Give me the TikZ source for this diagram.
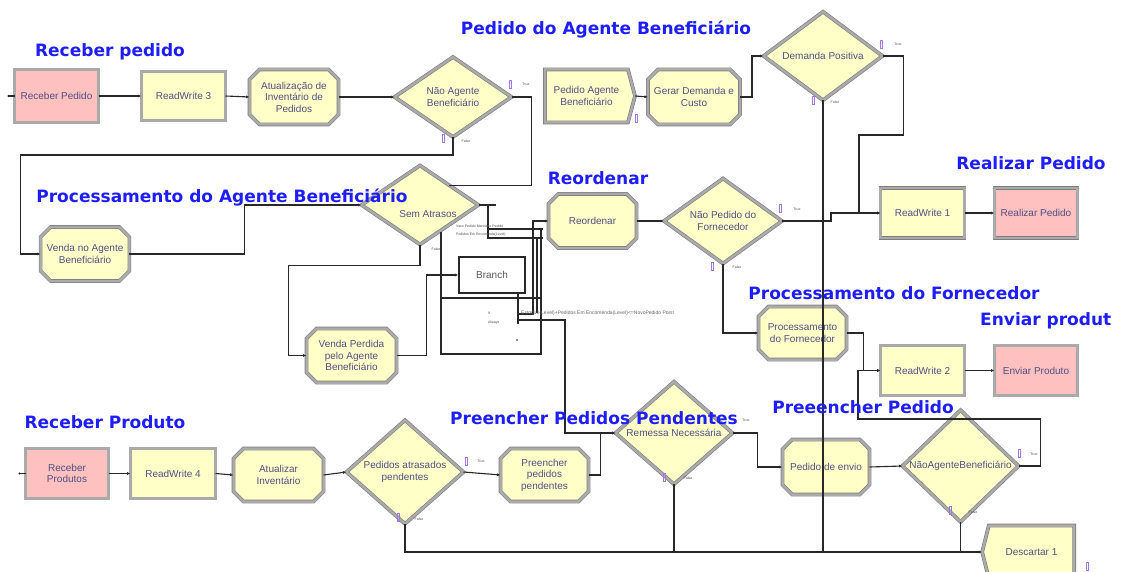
\documentclass[tikz,border=0pt]{standalone}
\usepackage{fontspec}
\newfontfamily\modfont{Liberation Sans}
\newfontfamily\ttlfont{DejaVu Sans}
\usetikzlibrary{shapes.geometric,shapes.misc,shapes.symbols,arrows.meta,calc}
\definecolor{yel}{RGB}{255,255,200}
\definecolor{pinkf}{RGB}{255,192,192}
\definecolor{modline}{RGB}{170,170,170}
\definecolor{modedge}{RGB}{125,125,125}
\definecolor{modtext}{RGB}{80,80,130}
\definecolor{ttlblue}{RGB}{30,30,250}
\definecolor{lnc}{RGB}{40,40,40}
\definecolor{pmark}{RGB}{160,120,230}
\tikzset{
 mod/.style={draw=modedge, line width=0.6pt, double=modline, double distance=2.5pt, font=\modfont\fontsize{10}{11.5}\selectfont, text=modtext, align=center, inner sep=1pt, outer sep=0pt},
 rwbox/.style={mod, rectangle, fill=yel},
 crbox/.style={mod, rectangle, fill=pinkf},
 procbox/.style={mod, chamfered rectangle, chamfered rectangle xsep=5pt, chamfered rectangle ysep=5pt, fill=yel},
 decbox/.style={mod, diamond, fill=yel, inner sep=0pt},
 sepbox/.style={mod, signal, signal to=east, signal pointer angle=150, fill=yel},
 dispbox/.style={mod, signal, signal to=west, signal pointer angle=152, fill=yel},
 brbox/.style={draw=lnc, line width=1.1pt, fill=white, font=\modfont\fontsize{10}{11.5}\selectfont, text=black!65, inner sep=1pt},
 modtxt/.style={font=\modfont\fontsize{10}{11.5}\selectfont, text=modtext, inner sep=0pt},
 ttl/.style={font=\ttlfont\bfseries\fontsize{17}{19}\selectfont, text=ttlblue, inner sep=0pt},
 wire/.style={draw=lnc, line width=1.1pt},
 conn/.style={wire, -{Latex[length=3.5pt,width=3pt]}},
 tiny/.style={font=\modfont\fontsize{3.5}{4}\selectfont, text=black!70, inner sep=0pt},
 smalltxt/.style={font=\modfont\fontsize{5}{5.5}\selectfont, text=black!60, inner sep=0pt},
 pm/.style={draw=pmark, line width=0.6pt},
}
\begin{document}
\begin{tikzpicture}[x=1pt,y=-1pt]
\clip (0,0) rectangle (1121,572);
\fill[white] (0,0) rectangle (1121,572);

% ---------- modules ----------
\node[crbox, minimum width=84pt, minimum height=53pt] (rp) at (56.5,96) {Receber Pedido};
\node[rwbox, minimum width=84pt, minimum height=49pt] (rw3) at (183.5,96) {ReadWrite 3};
\node[procbox, minimum width=89pt, minimum height=55pt] (atp) at (294,97) {Atualização de\\Inventário de\\Pedidos};
\node[decbox, minimum width=117pt, minimum height=80pt] (nab) at (453,97) {Não Agente\\Beneficiário};
\node[sepbox, minimum width=90pt, minimum height=53pt] (pab) at (586.5,96) {Pedido Agente\\Beneficiário};
\node[procbox, minimum width=85pt, minimum height=55pt] (gdc) at (694,97) {Gerar Demanda e\\Custo};
\node[decbox, minimum width=119pt, minimum height=80pt] (dp) at (823,56) {Demanda Positiva};

\node[decbox, minimum width=117pt, minimum height=79pt] (sa) at (420,205) {};
\node[modtxt] (sat) at (428,214) {Sem Atrasos};
\node[procbox, minimum width=87pt, minimum height=54pt] (vab) at (85,254) {Venda no Agente\\Beneficiário};
\node[procbox, minimum width=88pt, minimum height=54pt] (reo) at (592.5,221) {Reordenar};
\node[decbox, minimum width=118pt, minimum height=79pt] (npf) at (723,221) {Não Pedido do\\Fornecedor};
\node[rwbox, minimum width=84pt, minimum height=50pt] (rw1) at (922.5,213) {ReadWrite 1};
\node[crbox, minimum width=83pt, minimum height=50pt] (rlp) at (1036,213) {Realizar Pedido};
\node[brbox, minimum width=66pt, minimum height=36pt] (br) at (492,275) {Branch};
\node[procbox, minimum width=90pt, minimum height=54pt] (vpab) at (351.5,355.5) {Venda Perdida\\pelo Agente\\Beneficiário};
\node[procbox, minimum width=88pt, minimum height=53pt] (pf) at (802.5,333) {Processamento\\do Fornecedor};
\node[rwbox, minimum width=84pt, minimum height=50pt] (rw2) at (922.5,370.5) {ReadWrite 2};
\node[crbox, minimum width=83pt, minimum height=50pt] (ep) at (1036,370.5) {Enviar Produto};

\node[crbox, minimum width=83pt, minimum height=50pt] (rpr) at (67,473.5) {Receber\\Produtos};
\node[rwbox, minimum width=85pt, minimum height=50pt] (rw4) at (173,473.5) {ReadWrite 4};
\node[procbox, minimum width=90pt, minimum height=53pt] (ai) at (278.5,475) {Atualizar\\Inventário};
\node[decbox, minimum width=117pt, minimum height=78pt] (pap) at (405,472) {Pedidos atrasados\\pendentes};
\node[procbox, minimum width=88pt, minimum height=53pt] (ppp) at (544.5,475) {Preencher\\pedidos\\pendentes};
\node[decbox, minimum width=117pt, minimum height=77pt] (rn) at (674,433) {Remessa Necessária};
\node[procbox, minimum width=87pt, minimum height=55pt] (pe) at (826,467) {Pedido de envio};
\node[decbox, minimum width=116pt, minimum height=79pt] (nab2) at (960.5,466) {NãoAgenteBeneficiário};
\node[dispbox, minimum width=92pt, minimum height=53pt] (d1) at (1031.5,552) {Descartar 1};

% ---------- connectors ----------
\coordinate (e1) at ($(rp.west)+(-6,0)$);
\draw[wire] (e1) -- (rp.west);
\fill[lnc] (e1) circle (1.2pt);
\coordinate (e2) at ($(rpr.west)+(-6,0)$);
\draw[wire] (e2) -- (rpr.west);
\fill[lnc] (e2) circle (1.2pt);

\draw[conn] (rp.east) -- (rw3.west);
\draw[conn] (rw3.east) -- (atp.west);
\draw[conn] (atp.east) -- (nab.west);
\draw[wire] (nab.east) -- ++(20,0) |- (sa.north east);
\draw[conn] (nab.south) -- ++(0,18) -| ($(vab.west)+(-20,0)$) -- (vab.west);
\draw[conn] (pab.east) -- (gdc.west);
\draw[conn] (gdc.east) -- ++(12,0) |- (dp.west);
\coordinate (j1) at (859,135);
\draw[conn] (dp.east) -- ++(21,0) |- (j1) |- (rw1.west);

\draw[conn] (vab.east) -- ++(115,0) |- (sa.west);
\draw[conn] (sa.south) -- ++(0,21) -| ($(vpab.west)+(-18,0)$) -- (vpab.west);
\draw[conn] (vpab.east) -- ++(30,0) |- (br.west);

% branch block lines
\coordinate (s1) at (488,205);
\draw[wire] (sa.east) -- ++(17,0);
\draw[wire] (s1) -- (488,239);
\draw[wire] (488,229) -- (543,229);
\draw[wire] (488,238) -- (543,238);
\draw[wire] (441,232) -- (441,354) -- (541,354) -- (541,229);
\draw[wire] (441,298) -- (541,298);
\draw[wire] (537,238) -- (537,313);
\coordinate (b0) at (518,293);
\coordinate (b1) at (518,314);
\coordinate (b2) at (518,320);
\draw[wire] (b0) -- (518,324);
\draw[conn] (b1) -- ++(15,0) |- (reo.west);
\draw[conn] (b2) -- ++(47,0) |- (rn.west);
\fill[lnc] (517,340) circle (0.8pt);

\draw[conn] (reo.east) -- (npf.west);
\draw[conn] (npf.east) -- ++(49,0) |- (rw1.west);
\draw[conn] (npf.south) |- (pf.west);
\draw[conn] (rw1.east) -- (rlp.west);
\draw[conn] (pf.east) -- ++(17,0) |- (rw2.west);
\draw[conn] (rw2.east) -- (ep.west);

\draw[conn] (rpr.east) -- (rw4.west);
\draw[conn] (rw4.east) -- (ai.west);
\draw[conn] (ai.east) -- (pap.west);
\draw[conn] (pap.east) -- (ppp.west);
\draw[conn] (ppp.east) -- ++(12,0) |- (rn.west);
\draw[conn] (rn.east) -- ++(25,0) |- (pe.west);
\draw[conn] (pe.east) -- (nab2.west);
\coordinate (j2) at (858,419);
\draw[conn] (nab2.east) -- ++(22,0) |- (j2) |- (rw2.west);
\draw[conn] (pap.south) |- (d1.west);
\draw[wire] (rn.south) -- (rn.south |- d1.west);
\draw[wire] (nab2.south) -- (nab2.south |- d1.west);
\draw[wire] (dp.south) -- (dp.south |- d1.west);

% ---------- small labels ----------
\node[tiny] (l1) at (526,84) {True};
\node[tiny] (l2) at (466,141) {False};
\node[tiny] (l3) at (898,44) {True};
\node[tiny] (l4) at (835,102) {False};
\node[tiny] (l5) at (797,209) {True};
\node[tiny] (l6) at (737,267) {False};
\node[tiny] (l7) at (481,461) {True};
\node[tiny] (l8) at (419,519) {False};
\node[tiny] (l9) at (746,420) {True};
\node[tiny] (l10) at (688,478) {False};
\node[tiny] (l11) at (1034,454) {True};
\node[tiny] (l12) at (973,512) {False};
\node[tiny] (l13) at (436,249) {False};
\foreach \px/\py in {510/84,443/138,881/44,813/100,780/208,712/266,466/461,398/517,664/477,1019/453,950/510,636/118,1087/566}
  \draw[pm] (\px-0.8,\py-4) rectangle (\px+0.8,\py+4);
\node[tiny, anchor=west] (bl1) at (456,226) {Vaso Pedido Mandado Pedido};
\node[tiny, anchor=west] (bl2) at (456,235) {Pedidos Em Encomenda(Level)};
\node[tiny, anchor=west] (bl3) at (488,313) {If};
\node[tiny, anchor=west] (bl4) at (488,323) {Always};
\node[smalltxt, anchor=west] (bl5) at (521,313) {Estoque(Level)+Pedidos Em Encomenda(Level)<=NovoPedido Point};

% ---------- titles ----------
\node[ttl] (t1) at (110,52) {Receber pedido};
\node[ttl] (t2) at (606,30) {Pedido do Agente Beneficiário};
\node[ttl] (t3) at (222,198) {Processamento do Agente Beneficiário};
\node[ttl] (t4) at (598,178) {Reordenar};
\node[ttl] (t5) at (1031,163) {Realizar Pedido};
\node[ttl] (t6) at (894,293) {Processamento do Fornecedor};
\node[ttl, anchor=west] (t7) at (980,321) {Enviar produt};
\node[ttl] (t8) at (105,422) {Receber Produto};
\node[ttl] (t9) at (594,418) {Preencher Pedidos Pendentes};
\node[ttl] (t10) at (863,407) {Preeencher Pedido};
\end{tikzpicture}
\end{document}
